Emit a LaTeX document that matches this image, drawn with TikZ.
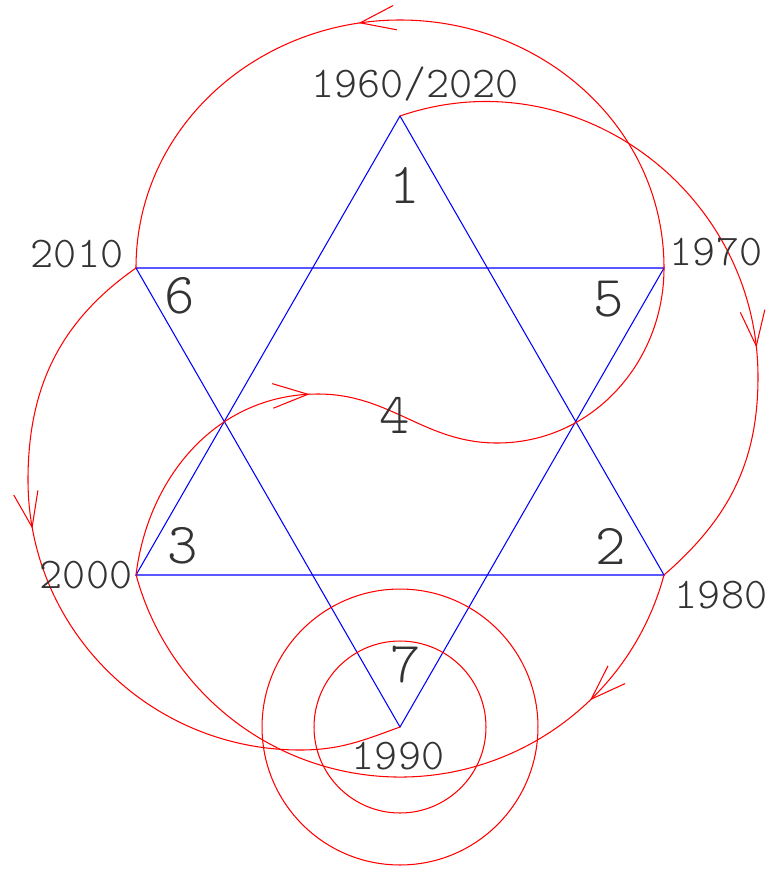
\documentclass[tikz,border=0pt]{standalone}
\usepackage{fontspec}
\setmonofont{Latin Modern Mono Light}
\usetikzlibrary{arrows.meta,decorations.markings}

\begin{document}
\begin{tikzpicture}[x=0.02cm,y=-0.02cm,
  hexline/.style={blue,line width=0.6pt},
  loopline/.style={red,line width=0.6pt},
  midarrow/.style={postaction={decorate,decoration={markings,
    mark=at position #1 with {\arrow{Straight Barb[length=20pt,width=14pt]}}}}},
  yearlbl/.style={inner sep=0pt,text=black!80,font=\fontsize{25}{25}\ttfamily\selectfont},
  fieldlbl/.style={inner sep=0pt,text=black!80,font=\fontsize{33}{33}\ttfamily\selectfont}]
 \useasboundingbox (0,0) rectangle (766,869);

 % corners of the star
 \coordinate (T)  at (400,116);
 \coordinate (B)  at (400,727);
 \coordinate (UL) at (136,268);
 \coordinate (UR) at (664,268);
 \coordinate (LL) at (136,575);
 \coordinate (LR) at (664,575);

 % turning points of the loops
 \coordinate (aR)   at (758,377);
 \coordinate (eL)   at (28,480);
 \coordinate (eB)   at (300,750);
 \coordinate (sT)   at (318,394);
 \coordinate (sM)   at (497,443);
 \coordinate (sTop) at (400,20);

 \draw[hexline] (T) -- (LL) -- (LR) -- cycle;
 \draw[hexline] (B) -- (UL) -- (UR) -- cycle;

 % the loops
 \draw[loopline,midarrow=0.655] (T) to[out=19,in=90,looseness=1.07] (aR) to[out=-90,in=41] (LR);
 \draw[loopline,midarrow=0.206] (LR) arc[start angle=-15.15,end angle=-164.85,radius=5.47cm];
 \draw[loopline,midarrow=0.177,midarrow=0.766] (LL) to[out=83,in=180] (sT)
   to[out=0,in=180] (sM) to[out=0,in=-90] (UR) to[out=90,in=0] (sTop) to[out=180,in=90] (UL);
 \draw[loopline,midarrow=0.383] (UL) to[out=215,in=90] (eL) to[out=-90,in=180] (eB)
   to[out=0,in=200] (B);
 \draw[loopline] (B) circle[radius=1.72cm];
 \draw[loopline] (B) circle[radius=2.76cm];

 % years
 \node[yearlbl] (y1960) at (415,84)  {1960/2020};
 \node[yearlbl] (y1970) at (716,252) {1970};
 \node[yearlbl] (y1980) at (721,595) {1980};
 \node[yearlbl] (y1990) at (398,756) {1990};
 \node[yearlbl] (y2000) at (86,575)  {2000};
 \node[yearlbl] (y2010) at (77,254)  {2010};

 % fields
 \node[fieldlbl] (f1) at (405,185) {1};
 \node[fieldlbl] (f2) at (611,546) {2};
 \node[fieldlbl] (f3) at (183,546) {3};
 \node[fieldlbl] (f4) at (395,415) {4};
 \node[fieldlbl] (f5) at (609,299) {5};
 \node[fieldlbl] (f6) at (180,296) {6};
 \node[fieldlbl] (f7) at (406,665) {7};
\end{tikzpicture}
\end{document}
